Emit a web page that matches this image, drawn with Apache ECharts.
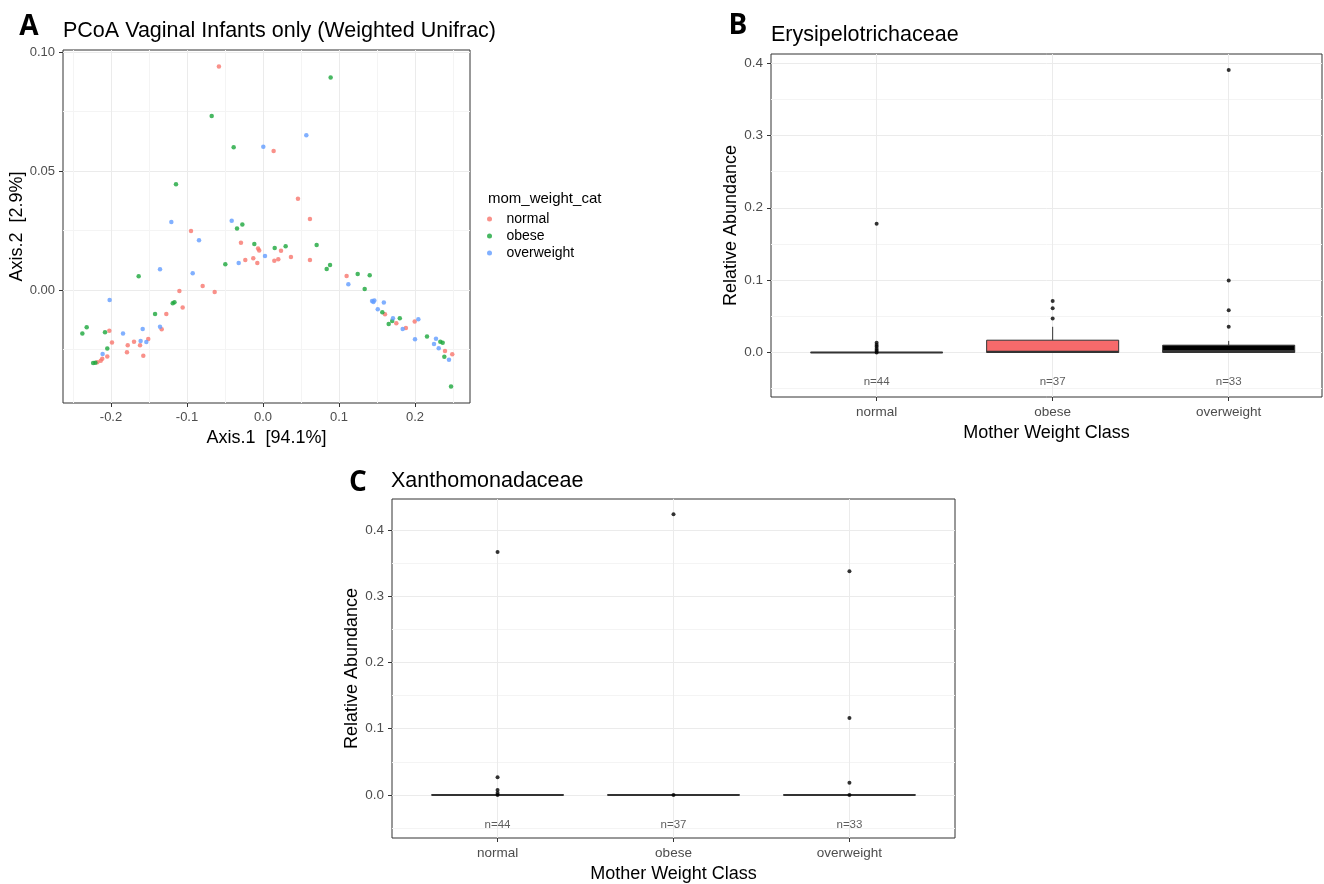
<!DOCTYPE html>
<html>
<head>
<meta charset="utf-8">
<title>Vaginal infants: PCoA and family abundance</title>
<script src="https://cdn.jsdelivr.net/npm/echarts@6.0.0/dist/echarts.min.js"></script>
<style>
  html, body { margin: 0; padding: 0; background: #fff; }
  #chart { width: 1324px; height: 884px; }
</style>
</head>
<body>
<div id="chart"></div>
<script>
const weightClasses = ['normal', 'obese', 'overweight']
const groupCounts = [44, 37, 33]

// PCoA coordinates, [Axis.1, Axis.2]
const pcoaNormal = [
  [-0.058, 0.0939], [0.014, 0.0584], [0.046, 0.0383], [0.0618, 0.0298], [-0.0947, 0.0248],
  [-0.029, 0.0199], [-0.0065, 0.0174], [-0.005, 0.0166], [0.0237, 0.0165], [-0.0233, 0.0126],
  [-0.0128, 0.0133], [-0.0075, 0.0113], [0.0149, 0.0123], [0.0201, 0.0129], [0.0368, 0.0139],
  [0.0618, 0.0126], [-0.0794, 0.0017], [-0.0636, -0.0008], [-0.11, -0.0004], [-0.1057, -0.0074],
  [-0.1272, -0.0101], [-0.1333, -0.0165], [-0.2022, -0.0171], [-0.1987, -0.0221], [-0.178, -0.0232],
  [-0.1697, -0.0217], [-0.1618, -0.0232], [-0.151, -0.0206], [-0.179, -0.0262], [-0.1575, -0.0276],
  [-0.2049, -0.0279], [-0.2115, -0.0289], [-0.2135, -0.0297], [-0.218, -0.0304], [0.11, 0.0059],
  [0.1605, -0.0102], [0.1754, -0.014], [0.188, -0.016], [0.1996, -0.0132], [0.2395, -0.0256],
  [0.249, -0.027]
]
const pcoaObese = [
  [0.089, 0.0893], [-0.0675, 0.0731], [-0.0386, 0.06], [-0.1145, 0.0444], [-0.0342, 0.0258],
  [-0.0272, 0.0275], [-0.0114, 0.0193], [0.0154, 0.0176], [0.0298, 0.0184], [0.0706, 0.0189],
  [-0.0496, 0.0108], [0.0838, 0.0088], [0.0882, 0.0105], [-0.1636, 0.0058], [0.1246, 0.0067],
  [0.1404, 0.0062], [0.1338, 0.0004], [-0.1188, -0.0056], [-0.1165, -0.0051], [-0.142, -0.0101],
  [-0.232, -0.0157], [-0.2377, -0.0183], [-0.2079, -0.0178], [-0.2049, -0.0246], [-0.2235, -0.0307],
  [-0.2205, -0.0306], [0.157, -0.0094], [0.1654, -0.0143], [0.17, -0.013], [0.18, -0.0119],
  [0.2158, -0.0195], [0.2333, -0.0217], [0.2364, -0.0222], [0.2386, -0.028], [0.2474, -0.0405]
]
const pcoaOverweight = [
  [0.057, 0.065], [0.0004, 0.0602], [-0.1206, 0.0286], [-0.0412, 0.0291], [-0.0842, 0.0209],
  [0.0026, 0.0143], [-0.032, 0.0113], [-0.1355, 0.0087], [-0.0925, 0.007], [-0.2018, -0.0042],
  [-0.1842, -0.0183], [-0.1583, -0.0164], [-0.1355, -0.0154], [-0.161, -0.0214], [-0.1535, -0.0218],
  [-0.211, -0.0269], [0.1123, 0.0024], [0.1435, -0.0046], [0.1452, -0.005], [0.1465, -0.0044],
  [0.159, -0.0053], [0.151, -0.0081], [0.171, -0.0119], [0.1838, -0.0164], [0.2044, -0.0123],
  [0.2, -0.0207], [0.2276, -0.0205], [0.225, -0.0227], [0.2312, -0.0245], [0.2447, -0.0293]
]
const axis1Ticks = [-0.2, -0.1, 0, 0.1, 0.2]
const axis1Minor = [-0.25, -0.15, -0.05, 0.05, 0.15, 0.25]
const axis2Ticks = [0, 0.05, 0.1]
const axis2Minor = [-0.025, 0.025, 0.075]

// box stats per class: [lower whisker, Q1, median, Q3, upper whisker]
const erysBoxes = [[0, 0, 0, 0, 0], [0, 0, 0.001, 0.017, 0.0355], [0, 0, 0.002, 0.0101, 0.016]]
const erysOutliers = [
  [0.178, 0.0133, 0.0105, 0.0078, 0.005, 0.0025, 0],
  [0.071, 0.061, 0.047],
  [0.3905, 0.0996, 0.0585, 0.0355]
]
const xanthBoxes = [[0, 0, 0, 0, 0], [0, 0, 0, 0, 0], [0, 0, 0, 0, 0]]
const xanthOutliers = [
  [0.3665, 0.0265, 0.0075, 0.003, 0],
  [0.4235, 0],
  [0.3375, 0.116, 0.0185, 0]
]
const abundTicks = [0, 0.1, 0.2, 0.3, 0.4]
const abundMinor = [-0.05, 0.05, 0.15, 0.25, 0.35]
const classTicks = [1, 2, 3]

const font = '"Liberation Sans", Arial, sans-serif'
const pointColors = ['#F8766D', '#1AA63B', '#619CFF']
const erysFills = ['#ffffff', '#F66A6B', '#000000']
const xanthFills = ['#ffffff', '#ffffff', '#ffffff']
const tickColor = '#4d4d4d'

const mainAxis = (gridIndex, min, max, ticks, format, labelSize, extra) => ({
  type: 'value',
  gridIndex,
  min,
  max,
  axisLine: { show: false, onZero: false },
  axisTick: { show: true, customValues: ticks, length: 4, lineStyle: { color: '#333' } },
  axisLabel: { customValues: ticks, formatter: format, color: tickColor, fontSize: labelSize, fontFamily: font, margin: 8 },
  splitLine: { show: true, lineStyle: { color: '#ebebeb', width: 1 } },
  nameLocation: 'middle',
  nameTextStyle: { color: '#000', fontSize: 18, fontFamily: font },
  ...extra,
})

const minorAxis = (gridIndex, min, max, ticks) => ({
  type: 'value',
  gridIndex,
  min,
  max,
  axisLine: { show: false, onZero: false },
  axisTick: { show: false, customValues: ticks },
  axisLabel: { show: false },
  splitLine: { show: true, lineStyle: { color: '#f4f4f4', width: 1 } },
})

const classLabel = (v) => weightClasses[Math.round(v) - 1]

const boxRender = (fills) => (params, api) => {
  const x = api.value(0)
  const half = 0.375
  const low = api.coord([x, api.value(1)])
  const q1 = api.coord([x, api.value(2)])
  const q3 = api.coord([x, api.value(4)])
  const high = api.coord([x, api.value(5)])
  const boxA = api.coord([x - half, api.value(4)])
  const boxB = api.coord([x + half, api.value(2)])
  const medA = api.coord([x - half, api.value(3)])
  const medB = api.coord([x + half, api.value(3)])
  const line = { stroke: '#333', lineWidth: 1 }
  return {
    type: 'group',
    children: [
      { type: 'line', shape: { x1: low[0], y1: low[1], x2: q1[0], y2: q1[1] }, style: line },
      { type: 'line', shape: { x1: q3[0], y1: q3[1], x2: high[0], y2: high[1] }, style: line },
      {
        type: 'rect',
        shape: { x: boxA[0], y: boxA[1], width: boxB[0] - boxA[0], height: boxB[1] - boxA[1] },
        style: { fill: fills[params.dataIndex], stroke: '#333', lineWidth: 1 },
      },
      { type: 'line', shape: { x1: medA[0], y1: medA[1], x2: medB[0], y2: medB[1] }, style: { stroke: '#333', lineWidth: 2 } },
    ],
  }
}

const boxSeries = (xAxisIndex, yAxisIndex, boxes, outliers, fills, nY) => [
  {
    type: 'custom',
    xAxisIndex,
    yAxisIndex,
    renderItem: boxRender(fills),
    encode: { x: 0, y: [1, 2, 3, 4, 5] },
    data: boxes.map((b, i) => [i + 1, ...b]),
    z: 2,
  },
  {
    type: 'scatter',
    xAxisIndex,
    yAxisIndex,
    symbolSize: 4,
    itemStyle: { color: '#000' },
    data: outliers.flatMap((vals, i) => vals.map((v) => [i + 1, v])),
    z: 3,
  },
  {
    type: 'scatter',
    xAxisIndex,
    yAxisIndex,
    symbolSize: 1,
    itemStyle: { color: 'rgba(0,0,0,0)' },
    label: {
      show: true,
      position: 'inside',
      formatter: (p) => 'n=' + p.value[2],
      color: '#333',
      fontSize: 11.5,
      fontFamily: font,
    },
    data: groupCounts.map((n, i) => [i + 1, nY, n]),
    z: 3,
  },
]

const textEl = (x, y, text, size, bold, align) => ({
  type: 'text',
  x,
  y,
  style: {
    text,
    font: (bold ? 'bold ' : '') + size + 'px ' + (bold ? '"Open Sans", ' : '') + font,
    fill: '#000',
    align: align || 'left',
    verticalAlign: 'middle',
    textAlign: align || 'left',
    textVerticalAlign: 'middle',
  },
})

const gridBase = { show: true, borderColor: '#333', borderWidth: 1, backgroundColor: '#fff', containLabel: false }

const option = {
  animation: false,
  backgroundColor: '#fff',
  grid: [
    { ...gridBase, left: 63, top: 50, width: 407, height: 353 },
    { ...gridBase, left: 771, top: 54, width: 551, height: 343 },
    { ...gridBase, left: 392, top: 499, width: 563, height: 341 },
  ],
  xAxis: [
    mainAxis(0, -0.26316, 0.27237, axis1Ticks, (v) => v.toFixed(1), 13, { name: 'Axis.1  [94.1%]', nameGap: 26 }),
    minorAxis(0, -0.26316, 0.27237, axis1Minor),
    mainAxis(1, 0.4, 3.53, classTicks, classLabel, 13.5, { name: 'Mother Weight Class', nameGap: 27 }),
    mainAxis(2, 0.4, 3.6, classTicks, classLabel, 13.5, { name: 'Mother Weight Class', nameGap: 27 }),
  ],
  yAxis: [
    mainAxis(0, -0.04748, 0.10084, axis2Ticks, (v) => v.toFixed(2), 13, { name: 'Axis.2  [2.9%]', nameGap: 33, nameRotate: 90 }),
    minorAxis(0, -0.04748, 0.10084, axis2Minor),
    mainAxis(1, -0.0615, 0.4125, abundTicks, (v) => v.toFixed(1), 13.5, { name: 'Relative Abundance', nameGap: 30, nameRotate: 90 }),
    minorAxis(1, -0.0615, 0.4125, abundMinor),
    mainAxis(2, -0.065, 0.4465, abundTicks, (v) => v.toFixed(1), 13.5, { name: 'Relative Abundance', nameGap: 30, nameRotate: 90 }),
    minorAxis(2, -0.065, 0.4465, abundMinor),
  ],
  legend: {
    data: weightClasses,
    orient: 'vertical',
    left: 487,
    top: 212,
    padding: 0,
    itemWidth: 20,
    itemHeight: 5,
    itemGap: 3,
    icon: 'circle',
    selectedMode: false,
    textStyle: { color: '#000', fontSize: 14, fontFamily: font, lineHeight: 14, padding: [0, 0, 0, 2] },
  },
  graphic: [
    textEl(29, 27, 'A', 28, true, 'center'),
    textEl(63, 31, 'PCoA Vaginal Infants only (Weighted Unifrac)', 21.5),
    textEl(738, 26, 'B', 28, true, 'center'),
    textEl(771, 35, 'Erysipelotrichaceae', 21.5),
    textEl(358, 483, 'C', 28, true, 'center'),
    textEl(391, 481, 'Xanthomonadaceae', 21.5),
    textEl(488, 199, 'mom_weight_cat', 15),
  ],
  series: [
    ...[pcoaNormal, pcoaObese, pcoaOverweight].map((data, i) => ({
      type: 'scatter',
      name: weightClasses[i],
      xAxisIndex: 0,
      yAxisIndex: 0,
      symbolSize: 4.5,
      itemStyle: { color: pointColors[i] },
      data,
    })),
    ...boxSeries(2, 2, erysBoxes, erysOutliers, erysFills, -0.04),
    ...boxSeries(3, 4, xanthBoxes, xanthOutliers, xanthFills, -0.045),
  ],
}

const myChart = echarts.init(document.getElementById('chart'))
myChart.setOption(option)
</script>
</body>
</html>
